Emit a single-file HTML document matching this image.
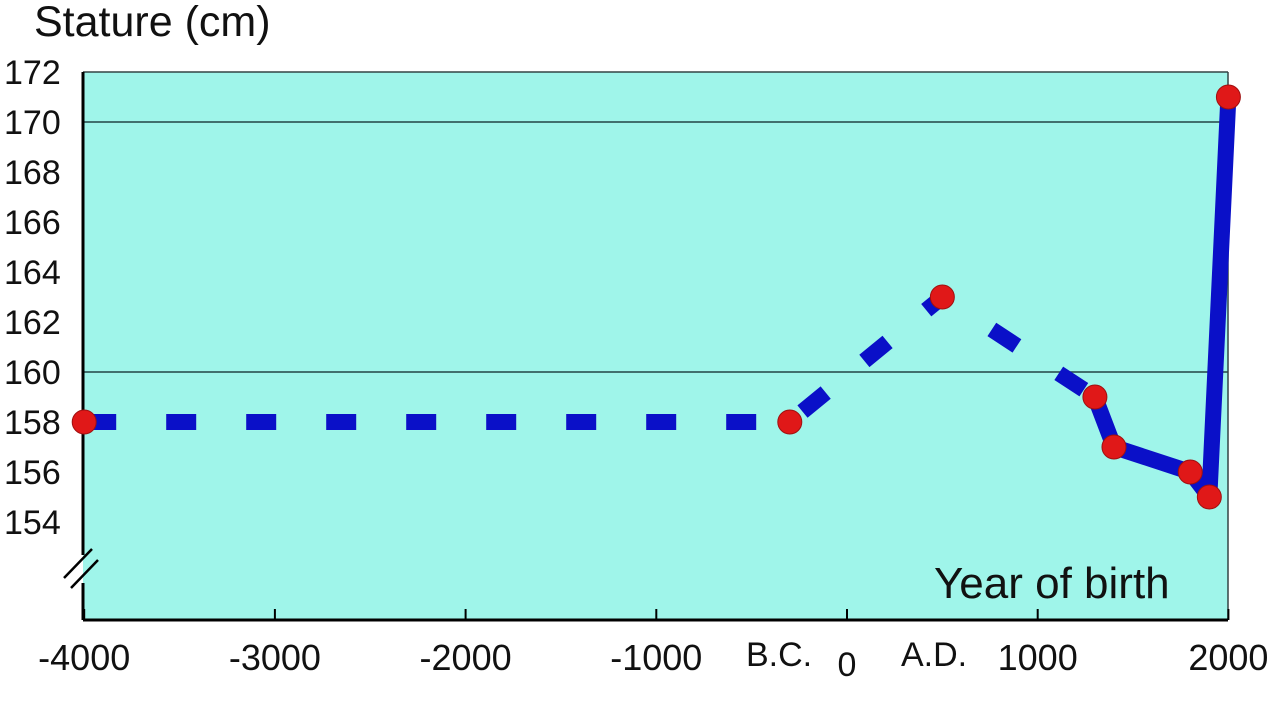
<!DOCTYPE html>
<html><head><meta charset="utf-8"><style>
body{margin:0;background:#fff;width:1280px;height:698px;overflow:hidden}
svg text{font-family:"Liberation Sans",sans-serif;fill:#111}
</style></head><body>
<svg width="1280" height="698" id="c">
<rect x="83" y="72" width="1145" height="548" fill="#9ff5ea"/>
<text x="34" y="36" font-size="43">Stature (cm)</text>
<text x="934" y="598" font-size="44">Year of birth</text>
<text x="746" y="666" font-size="34">B.C.</text>
<text x="901" y="666" font-size="34">A.D.</text>
<g id="grid"></g><g id="axes"></g><g id="series"></g>
</svg>
<script>
const yTicks=[154,156,158,160,162,164,166,168,170,172];
const gridVals=[160,170];
const xTicks=[-4000,-3000,-2000,-1000,0,1000,2000];
const years=[-4000,-300,500,1300,1400,1800,1900,2000];
const stature=[158,158,163,159,157,156,155,171];
const dashedUntil=3;
const ns="http://www.w3.org/2000/svg";
const X=v=>847+v*0.1907;
const Y=v=>372-(v-160)*25;
function mk(t,a,p){const e=document.createElementNS(ns,t);for(const k in a)e.setAttribute(k,a[k]);p.appendChild(e);return e;}
const g=document.getElementById('grid'),ax=document.getElementById('axes'),s=document.getElementById('series');
gridVals.forEach(v=>{const l=mk('line',{x1:83,x2:1228,y1:Y(v),y2:Y(v),stroke:'#244',"stroke-width":1.5},g);

});
mk('line',{x1:83,x2:1228,y1:72,y2:72,stroke:'#344',"stroke-width":1.5},ax);
mk('line',{x1:1228,x2:1228,y1:72,y2:620,stroke:'#344',"stroke-width":1.5},ax);
mk('line',{x1:83,x2:83,y1:72,y2:555,stroke:'#000',"stroke-width":3},ax);
mk('line',{x1:83,x2:83,y1:583,y2:620,stroke:'#000',"stroke-width":3},ax);
mk('line',{x1:83,x2:1228,y1:620,y2:620,stroke:'#000',"stroke-width":3},ax);
mk('line',{x1:64,x2:92,y1:578,y2:549,stroke:'#000',"stroke-width":2.5},ax);
mk('line',{x1:71,x2:98,y1:588,y2:560,stroke:'#000',"stroke-width":2.5},ax);
yTicks.forEach(v=>{const t=mk('text',{x:4,y:Y(v)+12,"font-size":34},ax);t.textContent=v;

});
xTicks.forEach(v=>{mk('line',{x1:X(v),x2:X(v),y1:609,y2:620,stroke:'#000',"stroke-width":2},ax);
const t=mk('text',{x:X(v),y:v===0?676:670,"font-size":v===0?34:36,"text-anchor":"middle"},ax);t.textContent=v;

});
let dp=[],sp=[];
years.forEach((v,i)=>{if(i<=dashedUntil)dp.push(X(v)+','+Y(stature[i]));if(i>=dashedUntil)sp.push(X(v)+','+Y(stature[i]));});
const d=mk('polyline',{points:dp.join(' '),fill:'none',stroke:'#0a10c8',"stroke-width":16,"stroke-dasharray":"30 50","stroke-dashoffset":"-2"},s);


const l=mk('polyline',{points:sp.join(' '),fill:'none',stroke:'#0a10c8',"stroke-width":16,"stroke-linejoin":"round"},s);


years.forEach((v,i)=>{const c=mk('circle',{cx:X(v),cy:Y(stature[i]),r:12,fill:'#e01818',stroke:'#a01010',"stroke-width":1},s);

});
</script>
</body></html>
